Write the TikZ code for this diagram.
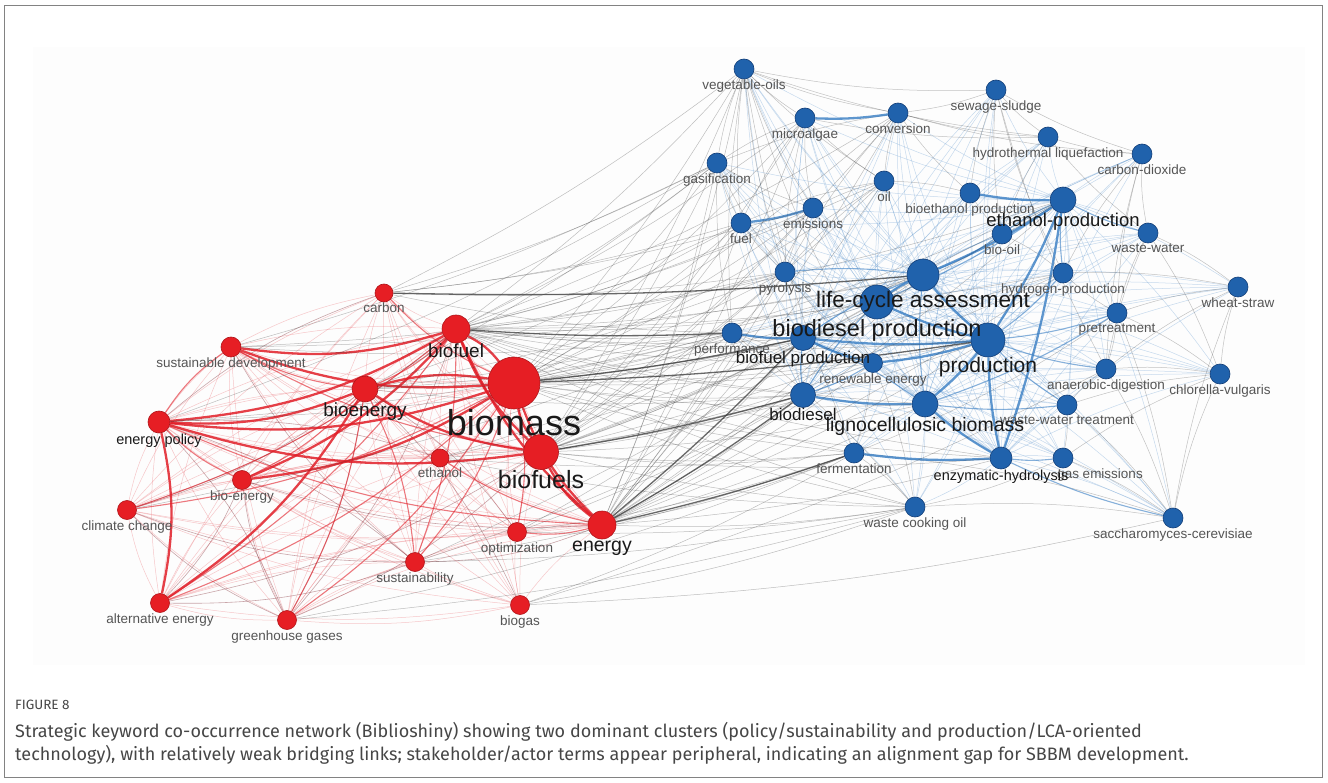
\documentclass[tikz,border=0pt]{standalone}
\usepackage{fontspec}
\setmainfont{Liberation Sans}
\newfontfamily\capfont{Fira Sans}

\definecolor{rnodefill}{RGB}{230,30,36}
\definecolor{rnodeline}{RGB}{175,20,25}
\definecolor{bnodefill}{RGB}{32,98,172}
\definecolor{bnodeline}{RGB}{18,62,120}
\definecolor{redE}{RGB}{225,30,40}
\definecolor{maroonE}{RGB}{125,35,45}
\definecolor{blueE}{RGB}{55,125,195}
\definecolor{grayE}{RGB}{55,55,55}
\definecolor{labgray}{RGB}{85,85,85}
\definecolor{labdark}{RGB}{25,25,25}
\definecolor{framegray}{RGB}{130,130,130}
\definecolor{capgray}{RGB}{70,70,70}

\pgfdeclarelayer{edgelayer}
\pgfsetlayers{edgelayer,main}

\tikzset{
  rnode/.style={circle, fill=rnodefill, draw=rnodeline, line width=.6pt, inner sep=0pt},
  bnode/.style={circle, fill=bnodefill, draw=bnodeline, line width=.6pt, inner sep=0pt},
  lab/.style={font=\fontsize{13.5}{14}\selectfont, text=labgray, inner sep=.5pt},
  darklab/.style={text=labdark, inner sep=0pt},
  redthick/.style={draw=redE, line width=2.3pt, opacity=.85},
  redmid/.style={draw=redE, line width=1.1pt, opacity=.6},
  redthin/.style={draw=redE!70, line width=.5pt, opacity=.35},
  maroonthin/.style={draw=maroonE, line width=.6pt, opacity=.4},
  bluethick/.style={draw=blueE, line width=2.3pt, opacity=.8},
  bluemid/.style={draw=blueE, line width=1.1pt, opacity=.6},
  bluethin/.style={draw=blueE!80, line width=.5pt, opacity=.35},
  graythin/.style={draw=grayE, line width=.5pt, opacity=.3},
  bridge/.style={draw=grayE, line width=.5pt, opacity=.32},
  bridgedark/.style={draw=grayE, line width=1.3pt, opacity=.75},
  capstyle/.style={font=\capfont\fontsize{18}{20}\selectfont, text=capgray, inner sep=0pt}
}

\def\redlist{carbon,biofuel,susdev,bioenergy,biomass,enpol,biofuels,ethanol,bioen,climate,energy,optim,sustain,altern,ghg,biogas}
\def\bluelist{vegoil,sewage,microalgae,conversion,htl,co2,gasif,oil,bioeth,fuel,emis,biooil,wastewater,pyro,h2prod,wheat,pretreat,perf,renew,anaer,chlorella,wwtreat,ferment,gasem,wco,sacch}

\begin{document}
\begin{tikzpicture}[x=1pt, y=-1pt]
\useasboundingbox (0,0) rectangle (1328,783);
\draw[framegray, line width=1.5pt] (4.5,5.5) rectangle (1322.5,777.5);

% blue cluster: production / LCA
\node (vegoil) at (744,69) [bnode, minimum size=20pt, label={[lab]below:vegetable-oils}] {};
\node (sewage) at (996,90) [bnode, minimum size=20pt, label={[lab]below:sewage-sludge}] {};
\node (microalgae) at (805,118) [bnode, minimum size=20pt, label={[lab]below:microalgae}] {};
\node (conversion) at (898,113) [bnode, minimum size=20pt, label={[lab]below:conversion}] {};
\node (htl) at (1048,137) [bnode, minimum size=20pt, label={[lab]below:hydrothermal liquefaction}] {};
\node (co2) at (1142,154) [bnode, minimum size=20pt, label={[lab]below:carbon-dioxide}] {};
\node (gasif) at (717,163) [bnode, minimum size=20pt, label={[lab]below:gasification}] {};
\node (oil) at (884,181) [bnode, minimum size=20pt, label={[lab]below:oil}] {};
\node (bioeth) at (970,193) [bnode, minimum size=20pt, label={[lab]below:bioethanol production}] {};
\node (emis) at (813,208) [bnode, minimum size=20pt, label={[lab]below:emissions}] {};
\node (fuel) at (741,223) [bnode, minimum size=20pt, label={[lab]below:fuel}] {};
\node (biooil) at (1002,234) [bnode, minimum size=20pt, label={[lab]below:bio-oil}] {};
\node (wastewater) at (1148,233) [bnode, minimum size=20pt, label={[lab]below:waste-water}] {};
\node (pyro) at (785,272) [bnode, minimum size=20pt, label={[lab]below:pyrolysis}] {};
\node (h2prod) at (1063,273) [bnode, minimum size=20pt, label={[lab]below:hydrogen-production}] {};
\node (wheat) at (1238,287) [bnode, minimum size=20pt, label={[lab]below:wheat-straw}] {};
\node (pretreat) at (1117,313) [bnode, minimum size=20pt, label={[lab]below:pretreatment}] {};
\node (perf) at (732,333) [bnode, minimum size=20pt, label={[lab]below:performance}] {};
\node (renew) at (873,363) [bnode, minimum size=19pt, label={[lab]below:renewable energy}] {};
\node (anaer) at (1106,369) [bnode, minimum size=20pt, label={[lab]below:anaerobic-digestion}] {};
\node (chlorella) at (1220,374) [bnode, minimum size=20pt, label={[lab]below:chlorella-vulgaris}] {};
\node (wwtreat) at (1067,405) [bnode, minimum size=20pt, label={[lab]below:waste-water treatment}] {};
\node (ferment) at (854,453) [bnode, minimum size=20pt, label={[lab]below:fermentation}] {};
\node (gasem) at (1063,458) [bnode, minimum size=20pt, label={[lab, xshift=37pt]below:gas emissions}] {};
\node (wco) at (915,507) [bnode, minimum size=20pt, label={[lab]below:waste cooking oil}] {};
\node (sacch) at (1173,518) [bnode, minimum size=20pt, label={[lab]below:saccharomyces-cerevisiae}] {};
\node (ethprod) at (1063,200) [bnode, minimum size=26pt, label={[darklab, font=\fontsize{18.5}{20}\selectfont]below:ethanol-production}] {};
\node (enzhyd) at (1001,458) [bnode, minimum size=22pt, label={[darklab, font=\fontsize{14.5}{16}\selectfont]below:enzymatic-hydrolysis}] {};
\node (biodiesel) at (803,395) [bnode, minimum size=25pt, label={[darklab, font=\fontsize{17}{18}\selectfont]below:biodiesel}] {};
\node (bfprod) at (803,338) [bnode, minimum size=25pt, label={[darklab, font=\fontsize{17}{18}\selectfont]below:biofuel production}] {};
\node (ligno) at (925,404) [bnode, minimum size=26pt, label={[darklab, font=\fontsize{19.5}{21}\selectfont]below:lignocellulosic biomass}] {};
\node (prod) at (988,340) [bnode, minimum size=34pt, label={[darklab, font=\fontsize{21}{23}\selectfont]below:production}] {};
\node (bdprod) at (877,302) [bnode, minimum size=34pt, label={[darklab, font=\fontsize{23.5}{25}\selectfont]below:biodiesel production}] {};
\node (lca) at (923,275) [bnode, minimum size=32pt, label={[darklab, font=\fontsize{22.5}{24}\selectfont]below:life-cycle assessment}] {};

% red cluster: policy / sustainability
\node (carbon) at (384,293) [rnode, minimum size=18pt, label={[lab]below:carbon}] {};
\node (susdev) at (231,347) [rnode, minimum size=20pt, label={[lab]below:sustainable development}] {};
\node (ethanol) at (440,458) [rnode, minimum size=18pt, label={[lab]below:ethanol}] {};
\node (bioen) at (242,480) [rnode, minimum size=19pt, label={[lab]below:bio-energy}] {};
\node (climate) at (127,510) [rnode, minimum size=19pt, label={[lab]below:climate change}] {};
\node (optim) at (517,532) [rnode, minimum size=19pt, label={[lab]below:optimization}] {};
\node (sustain) at (415,562) [rnode, minimum size=19pt, label={[lab]below:sustainability}] {};
\node (altern) at (160,603) [rnode, minimum size=19pt, label={[lab]below:alternative energy}] {};
\node (ghg) at (287,620) [rnode, minimum size=19pt, label={[lab]below:greenhouse gases}] {};
\node (biogas) at (520,605) [rnode, minimum size=19pt, label={[lab]below:biogas}] {};
\node (enpol) at (159,422) [rnode, minimum size=22pt, label={[darklab, font=\fontsize{14.5}{16}\selectfont]below:energy policy}] {};
\node (biofuel) at (456,329) [rnode, minimum size=28pt, label={[darklab, font=\fontsize{19}{20}\selectfont]below:biofuel}] {};
\node (bioenergy) at (365,389) [rnode, minimum size=26pt, label={[darklab, font=\fontsize{19}{20}\selectfont]below:bioenergy}] {};
\node (energy) at (602,525) [rnode, minimum size=28pt, label={[darklab, font=\fontsize{19.5}{21}\selectfont, label distance=2pt]below:energy}] {};
\node (biofuels) at (541,452) [rnode, minimum size=35pt, label={[darklab, font=\fontsize{25}{27}\selectfont]below:biofuels}] {};
\node (biomass) at (514,383) [rnode, minimum size=52pt, label={[darklab, font=\fontsize{36}{38}\selectfont]below:biomass}] {};

% caption
\node (figno) at (15,709) [capstyle, anchor=base west, font=\capfont\fontsize{13.5}{15}\selectfont] {FIGURE 8};
\node (capA) at (15,737) [capstyle, anchor=base west] {Strategic keyword co-occurrence network (Biblioshiny) showing two dominant clusters (policy/sustainability and production/LCA-oriented};
\node (capB) at (15,760) [capstyle, anchor=base west] {technology), with relatively weak bridging links; stakeholder/actor terms appear peripheral, indicating an alignment gap for SBBM development.};

\begin{pgfonlayer}{edgelayer}
\fill[black!0.7] (33,47) rectangle (1305,665);

% red cluster, all pairs
\foreach \a [count=\i] in \redlist {
  \foreach \b [count=\j] in \redlist {
    \ifnum\j>\i \draw[redthin] (\a) to[bend right=8] (\b); \fi
  }
}
\foreach \a/\b in {climate/bioenergy, climate/biofuel, altern/biofuels, ghg/bioenergy, ghg/biofuel, sustain/enpol,
  ghg/enpol, altern/sustain, bioen/ghg, bioen/energy, climate/sustain, susdev/sustain, carbon/enpol, ghg/biofuels,
  sustain/energy, altern/bioen, climate/ghg, biogas/bioenergy, optim/bioenergy, ethanol/enpol}
  \draw[maroonthin] (\a) to[bend right=10] (\b);
\foreach \a/\b in {susdev/bioenergy, susdev/biofuels, susdev/enpol, climate/biomass, sustain/biofuel, sustain/bioenergy,
  sustain/biomass, ghg/biomass, ethanol/energy, enpol/bioen, bioen/bioenergy, altern/biofuel, altern/biomass,
  optim/biomass, carbon/biomass, bioenergy/biofuel, enpol/energy, ghg/bioenergy, climate/biofuel, optim/energy}
  \draw[redmid] (\a) to[bend right=10] (\b);
\foreach \a/\b in {biomass/biofuel, biomass/bioenergy, biomass/biofuels, biomass/energy, biofuel/biofuels, biofuel/energy,
  enpol/biofuel, enpol/bioenergy, enpol/biomass, enpol/biofuels, susdev/biofuel, susdev/biomass, bioen/biomass,
  bioen/biofuel, altern/bioenergy, altern/enpol, bioenergy/biofuels, biofuels/energy}
  \draw[redthick] (\a) to[bend right=12] (\b);

% blue cluster, spokes to the hubs
\foreach \a in \bluelist {
  \foreach \b in {lca,bdprod,prod,ethprod,ligno,bfprod,biodiesel,enzhyd} {
    \draw[bluethin] (\a) to[bend right=6] (\b);
  }
}
\foreach \a/\b in {vegoil/microalgae, vegoil/conversion, vegoil/fuel, vegoil/gasif, vegoil/emis, vegoil/oil, vegoil/pyro,
  vegoil/perf, vegoil/renew, vegoil/ferment, vegoil/sewage, vegoil/htl, microalgae/htl, microalgae/gasif, microalgae/fuel,
  microalgae/oil, microalgae/pyro, microalgae/emis, conversion/sewage, conversion/htl, conversion/oil, conversion/gasif,
  conversion/pyro, conversion/co2, conversion/bioeth, sewage/htl, sewage/co2, sewage/bioeth, sewage/biooil, sewage/h2prod,
  sewage/anaer, htl/co2, htl/biooil, htl/wastewater, co2/wastewater, co2/h2prod, co2/pretreat, co2/anaer, gasif/pyro,
  gasif/fuel, gasif/emis, gasif/perf, oil/pyro, oil/emis, oil/fuel, emis/pyro, fuel/pyro, wheat/wastewater, wheat/pretreat,
  wheat/h2prod, wheat/chlorella, wheat/anaer, wheat/sacch, chlorella/wastewater, chlorella/pretreat, chlorella/anaer,
  chlorella/sacch, chlorella/gasem, chlorella/wwtreat, sacch/gasem, sacch/wwtreat, sacch/anaer, sacch/pretreat, sacch/wco,
  sacch/ferment, wco/ferment, wco/gasem, wco/renew, wco/perf, ferment/renew, ferment/pretreat, anaer/wwtreat,
  anaer/pretreat, gasem/wwtreat, h2prod/pretreat, h2prod/biooil, bioeth/biooil, bioeth/oil, wastewater/pretreat,
  wastewater/anaer, perf/renew, perf/pyro, pyro/renew}
  \draw[graythin] (\a) to[bend right=6] (\b);
\foreach \a/\b in {lca/pyro, lca/biooil, prod/h2prod, prod/pretreat, ethprod/biooil, ethprod/h2prod, ligno/wwtreat,
  enzhyd/gasem, enzhyd/sacch, bfprod/biodiesel, biodiesel/renew, prod/anaer, ligno/pretreat, ethprod/wastewater,
  lca/ligno, bdprod/biodiesel, bdprod/ethprod, prod/wwtreat, ligno/bfprod, lca/bfprod}
  \draw[bluemid] (\a) to[bend right=6] (\b);
\foreach \a/\b in {prod/ethprod, enzhyd/ethprod, ligno/enzhyd, ligno/prod, bdprod/prod, lca/prod, bfprod/prod,
  renew/prod, biodiesel/ligno, bioeth/ethprod, fuel/emis, microalgae/conversion, lca/ethprod, lca/bdprod,
  ferment/enzhyd, perf/bfprod, prod/enzhyd, bfprod/renew}
  \draw[bluethick] (\a) to[bend right=5] (\b);

% bridging links between the two clusters
\foreach \a in {biomass,biofuel,biofuels,energy} {
  \foreach \b in {perf,bfprod,bdprod,lca,prod,biodiesel,ligno,pyro,fuel,gasif,emis,microalgae,vegoil,ferment,wco,enzhyd,renew,oil,conversion,ethprod,h2prod} {
    \draw[bridge] (\a) to[bend right=5] (\b);
  }
}
\foreach \a/\b in {carbon/pyro, carbon/fuel, carbon/gasif, carbon/emis, carbon/perf, carbon/vegoil, bioenergy/perf,
  bioenergy/bfprod, bioenergy/lca, bioenergy/gasif, bioenergy/fuel, bioenergy/biodiesel, bioenergy/pyro,
  ethanol/ferment, ethanol/bfprod, ethanol/biodiesel, ethanol/ethprod, ethanol/wco, optim/biodiesel, optim/ferment,
  optim/wco, optim/bfprod, sustain/lca, sustain/wco, sustain/ferment, sustain/biodiesel, biogas/wco, biogas/anaer,
  biogas/sacch, biogas/ferment, susdev/pyro, susdev/lca, susdev/gasif, susdev/perf, enpol/perf, enpol/bfprod,
  enpol/gasif, ghg/wco, ghg/ferment, climate/perf}
  \draw[bridge] (\a) to[bend right=5] (\b);
\foreach \a/\b in {biomass/bfprod, biomass/prod, biofuel/perf, carbon/lca, energy/biodiesel, biofuels/biodiesel,
  energy/ferment, energy/bfprod}
  \draw[bridgedark] (\a) to[bend right=3] (\b);
\end{pgfonlayer}
\end{tikzpicture}
\end{document}
